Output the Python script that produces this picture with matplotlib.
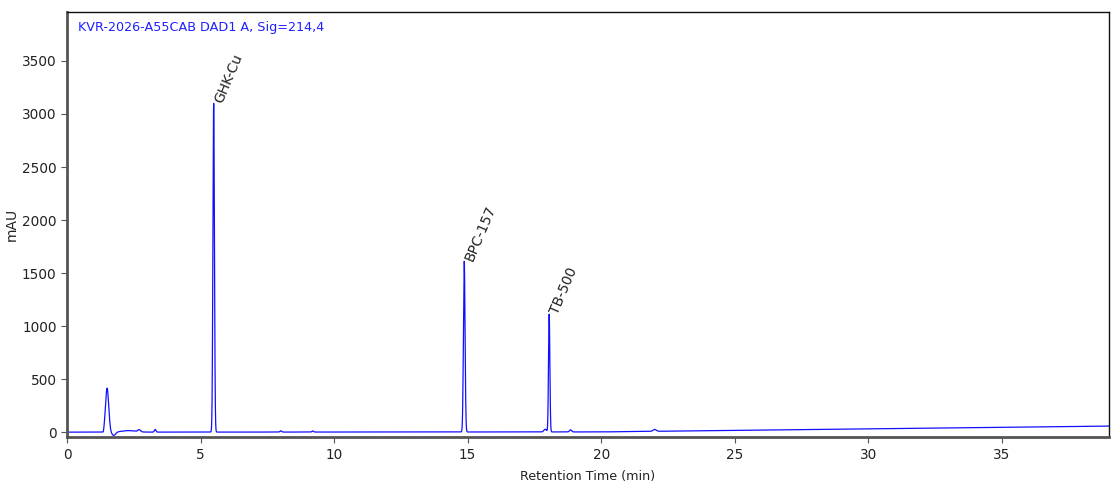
import numpy as np
import matplotlib
matplotlib.use("Agg")
import matplotlib.pyplot as plt

# ---- data ----
title_text = "KVR-2026-A55CAB DAD1 A, Sig=214,4"
peak_times   = [1.36, 1.50, 1.75, 2.30, 2.70, 3.30, 5.49, 8.00, 9.20, 14.87, 17.90, 18.05, 18.85, 22.00]
peak_heights = [-18, 415, -32, 14, 20, 25, 3100, 12, 10, 1610, 25, 1110, 20, 18]
peak_sigmas  = [0.02, 0.06, 0.07, 0.25, 0.05, 0.03, 0.028, 0.03, 0.03, 0.030, 0.05, 0.025, 0.04, 0.06]
labels       = ["GHK-Cu", "BPC-157", "TB-500"]
label_times  = [5.49, 14.87, 18.05]
label_heights = [3100, 1610, 1110]
baseline_t   = [0.0, 20.0, 39.0]
baseline_v   = [0.0, 2.0, 57.0]
x_ticks = [0, 5, 10, 15, 20, 25, 30, 35]
y_ticks = [0, 500, 1000, 1500, 2000, 2500, 3000, 3500]

t = np.linspace(0, 39, 20000)
signal = np.interp(t, baseline_t, baseline_v)
signal = np.where(t < 1.33, 0.0, signal)
for pt, ph, ps in zip(peak_times, peak_heights, peak_sigmas):
    signal = signal + ph * np.exp(-0.5 * ((t - pt) / ps) ** 2)

fig = plt.figure(figsize=(11.19, 4.99), dpi=100)
ax = fig.add_axes([0.0599, 0.124, 0.931, 0.852])
ax.plot(t, signal, color="#1010ff", lw=0.9)

for lab, lt, lh in zip(labels, label_times, label_heights):
    ax.text(lt + 0.42, lh - 20, lab, rotation=67, rotation_mode="anchor",
            ha="left", va="bottom", fontsize=10, color="#222222")

ax.text(0.011, 0.978, title_text, transform=ax.transAxes, ha="left", va="top",
        fontsize=9.2, color="#2020ff")

ax.set_xlim(0, 39)
ax.set_ylim(-47, 3962)
ax.set_xticks(x_ticks)
ax.set_yticks(y_ticks)
ax.set_xlabel("Retention Time (min)", fontsize=9.2, color="#222222", labelpad=6)
ax.set_ylabel("mAU", fontsize=10, color="#222222", labelpad=2)
ax.tick_params(axis="both", labelsize=9.8, colors="#222222", length=4,
               width=0.8, direction="out")
ax.tick_params(axis="both", color="#555555")
for s in ["left", "bottom"]:
    ax.spines[s].set_color("#555555")
    ax.spines[s].set_linewidth(2.0)
for s in ["top", "right"]:
    ax.spines[s].set_color("#111111")
    ax.spines[s].set_linewidth(1.0)

fig.savefig("out.png", dpi=100)
